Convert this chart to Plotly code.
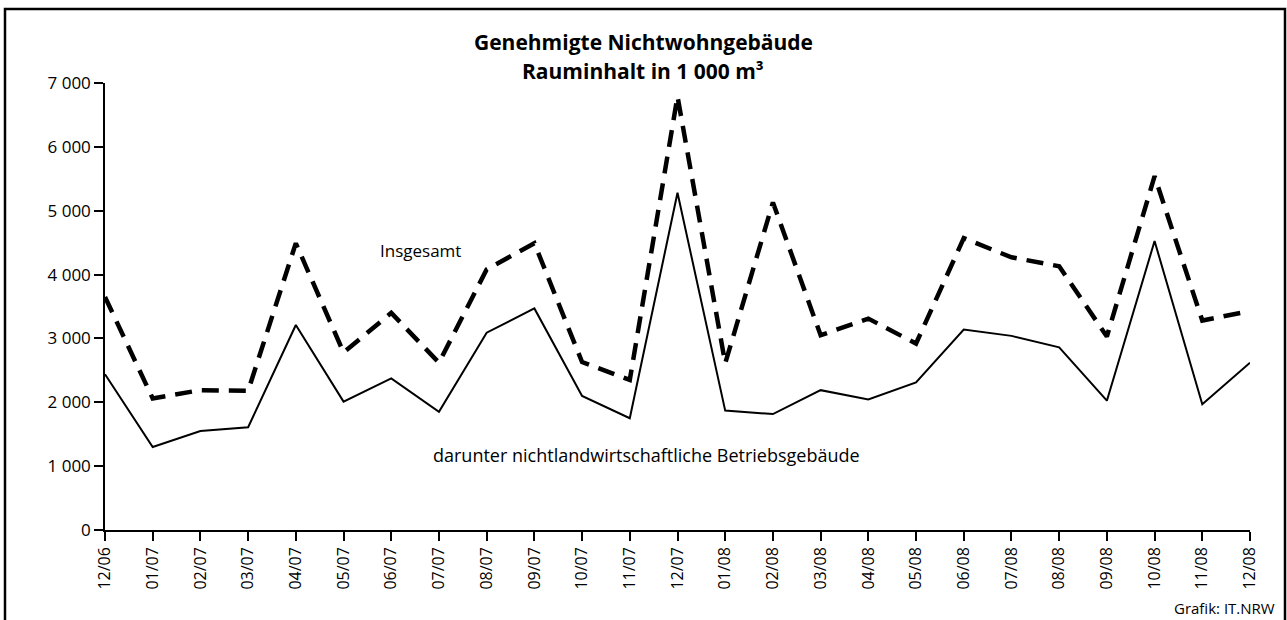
import plotly.graph_objects as go

months = ["12/06", "01/07", "02/07", "03/07", "04/07", "05/07", "06/07", "07/07",
          "08/07", "09/07", "10/07", "11/07", "12/07", "01/08", "02/08", "03/08",
          "04/08", "05/08", "06/08", "07/08", "08/08", "09/08", "10/08", "11/08", "12/08"]
insgesamt = [3650, 2060, 2190, 2180, 4490, 2780, 3400, 2620, 4080, 4490, 2630, 2350,
             6790, 2610, 5130, 3050, 3310, 2920, 4570, 4270, 4130, 3030, 5540, 3280, 3430]
darunter = [2440, 1300, 1550, 1610, 3210, 2010, 2375, 1850, 3090, 3470, 2100, 1750,
            5280, 1870, 1815, 2190, 2045, 2310, 3140, 3040, 2860, 2025, 4525, 1970, 2620]
y_ticks = [0, 1000, 2000, 3000, 4000, 5000, 6000, 7000]
y_tick_labels = ["0", "1 000", "2 000", "3 000", "4 000", "5 000", "6 000", "7 000"]

idx = list(range(len(months)))
FONT = "Open Sans"

fig = go.Figure()
fig.add_trace(go.Scatter(x=idx, y=insgesamt, mode="lines", name="Insgesamt",
                         line=dict(color="black", width=4.5, dash="17px,10px"),
                         showlegend=False, hoverinfo="y"))
fig.add_trace(go.Scatter(x=idx, y=darunter, mode="lines",
                         name="darunter nichtlandwirtschaftliche Betriebsgebäude",
                         line=dict(color="black", width=2),
                         showlegend=False, hoverinfo="y"))

W, H = 1287, 620
L, R, T, B = 105, 1250, 83, 530


def px(x):
    return (x - L) / (R - L)


def py(y):
    return (B - y) / (B - T)


fig.update_layout(
    width=W, height=H,
    margin=dict(l=L, r=W - R, t=T, b=H - B),
    paper_bgcolor="white", plot_bgcolor="white",
    font=dict(family=FONT, color="black", size=16),
    xaxis=dict(range=[0, len(months) - 1], tickmode="array", tickvals=idx,
               ticktext=months, tickangle=-90, ticks="outside", ticklen=9,
               tickwidth=1.5, tickcolor="black", showline=True, linecolor="black",
               linewidth=1.5, showgrid=False, zeroline=False,
               tickfont=dict(size=16, family=FONT)),
    yaxis=dict(range=[0, 7000], tickmode="array", tickvals=y_ticks,
               ticktext=y_tick_labels, ticks="outside", ticklen=9, tickwidth=1.5,
               tickcolor="black", showline=True, linecolor="black", linewidth=1.5,
               showgrid=False, zeroline=False, tickfont=dict(size=17, family=FONT)),
    shapes=[dict(type="rect", xref="paper", yref="paper",
                 x0=px(5), x1=px(1285), y0=py(640), y1=py(9),
                 line=dict(color="black", width=2.5), fillcolor="rgba(0,0,0,0)")],
    annotations=[
        dict(text="<b>Genehmigte Nichtwohngebäude</b>",
             xref="paper", yref="paper", x=px(643), y=py(57), xanchor="center",
             yanchor="bottom", showarrow=False, borderpad=0,
             font=dict(size=21, family=FONT)),
        dict(text="<b>Rauminhalt in 1 000 m³</b>",
             xref="paper", yref="paper", x=px(643), y=py(56), xanchor="center",
             yanchor="top", showarrow=False, borderpad=0,
             font=dict(size=21, family=FONT)),
        dict(text="Insgesamt", xref="paper", yref="paper", x=px(420), y=py(250),
             xanchor="center", yanchor="middle", showarrow=False,
             font=dict(size=17, family=FONT)),
        dict(text="darunter nichtlandwirtschaftliche Betriebsgebäude", xref="paper",
             yref="paper", x=px(646), y=py(455), xanchor="center", yanchor="middle",
             showarrow=False, font=dict(size=18, family=FONT)),
        dict(text="Grafik: IT.NRW", xref="paper", yref="paper", x=px(1277), y=py(608),
             xanchor="right", yanchor="middle", showarrow=False,
             font=dict(size=15, family=FONT)),
    ],
)

fig.write_html("out.html", config={"displayModeBar": False},
               post_script="document.body.style.margin='0';"
                           "document.body.style.overflow='hidden';")
